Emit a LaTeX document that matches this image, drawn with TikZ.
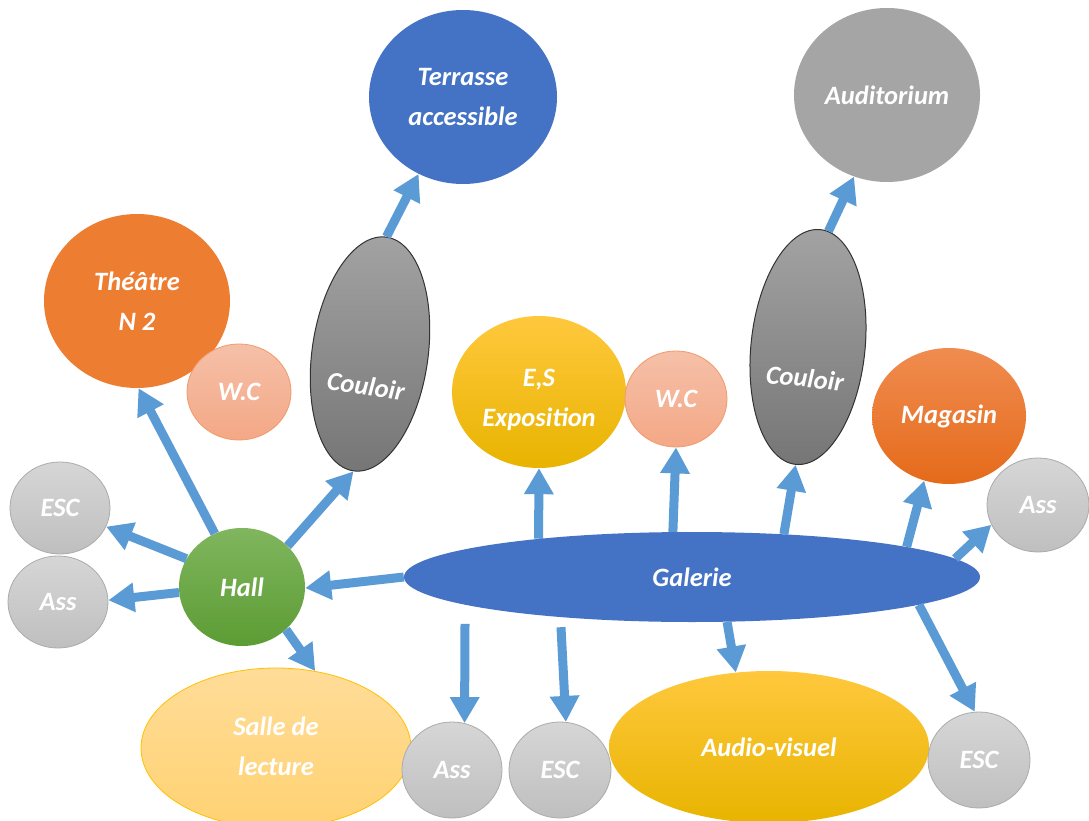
\documentclass[tikz,border=0pt]{standalone}
\usepackage{fontspec}
\setmainfont{Carlito}
\usetikzlibrary{shapes.geometric,arrows.meta}
\definecolor{arrowblue}{HTML}{5B9BD5}
\definecolor{blueN}{HTML}{4472C4}
\definecolor{grayA}{HTML}{A5A5A5}
\definecolor{orangeT}{HTML}{ED7D31}
\definecolor{wcTop}{HTML}{F5C0A8}
\definecolor{wcBot}{HTML}{F4A886}
\definecolor{wcB}{HTML}{F19A6A}
\definecolor{couTop}{HTML}{A3A3A3}
\definecolor{couBot}{HTML}{767676}
\definecolor{goldTop}{HTML}{FFC83D}
\definecolor{goldMid}{HTML}{FFC000}
\definecolor{goldBot}{HTML}{E8B400}
\definecolor{magTop}{HTML}{F08C50}
\definecolor{magMid}{HTML}{F47E2A}
\definecolor{magBot}{HTML}{E56A1A}
\definecolor{lgTop}{HTML}{D6D6D6}
\definecolor{lgBot}{HTML}{BFBFBF}
\definecolor{lgB}{HTML}{ABABAB}
\definecolor{hallTop}{HTML}{80B65E}
\definecolor{hallBot}{HTML}{5C9C34}
\definecolor{salTop}{HTML}{FFDC98}
\definecolor{salBot}{HTML}{FFD272}
\definecolor{salB}{HTML}{FFC000}
\begin{document}
\begin{tikzpicture}[x=1pt,y=-1pt,
  every node/.style={font=\fontsize{26.5}{40}\selectfont\bfseries\itshape, text=white, align=center},
  el/.style={ellipse, inner sep=0pt},
  sz/.style 2 args={minimum width=#1pt, minimum height=#2pt},
  wcs/.style={top color=wcTop, bottom color=wcBot, draw=wcB, line width=0.8pt},
  cous/.style={top color=couTop, bottom color=couBot, draw=black!80, line width=1pt},
  golds/.style={top color=goldTop, middle color=goldMid, bottom color=goldBot},
  mags/.style={top color=magTop, middle color=magMid, bottom color=magBot},
  lgs/.style={top color=lgTop, bottom color=lgBot, draw=lgB, line width=0.8pt},
  halls/.style={top color=hallTop, bottom color=hallBot},
  sals/.style={top color=salTop, bottom color=salBot, draw=salB, line width=0.8pt},
  arr/.style={draw=arrowblue, line width=9pt, -{Triangle[length=26pt,width=28pt]}},
  txt/.style={inner sep=0pt}
]
\clip (0,0) rectangle (1089,821);
\fill[white] (0,0) rectangle (1089,821);

% upper nodes
\node[el, sz={188}{174}, fill=blueN] (ter) at (463,97) {Terrasse\\accessible};
\node[el, sz={186}{174}, fill=grayA] (aud) at (887,95) {Auditorium};
\node[el, sz={186}{174}, fill=orangeT] (the) at (137,301) {Théâtre\\N 2};
\node[el, wcs, sz={104}{96}] (wc1) at (239,392) {W.C};
\node[el, cous, sz={116}{236}, rotate=-8] (cou1) at (370,354) {};
\node[txt, rotate=-8] (cou1t) at (366,386) {Couloir};
\node[el, golds, sz={174}{152}] (es) at (539,392) {};
\node[txt] (est) at (539,400) {E,S\\Exposition};
\node[el, wcs, sz={102}{96}] (wc2) at (676,399) {W.C};
\node[el, cous, sz={114}{236}, rotate=-6] (cou2) at (808,347) {};
\node[txt, rotate=-6] (cou2t) at (805,378) {Couloir};
\node[el, mags, sz={154}{136}] (mag) at (949,416) {Magasin};

% side nodes
\node[el, lgs, sz={102}{94}] (ass3) at (1038,505) {Ass};
\node[el, lgs, sz={100}{92}] (esc1) at (60,508) {ESC};
\node[el, lgs, sz={100}{92}] (ass1) at (58,602) {Ass};

% centre
\node[el, halls, sz={126}{118}] (hall) at (242,587) {Hall};
\node[el, fill=blueN, sz={576}{90}] (gal) at (692,577) {Galerie};

% lower nodes
\node[el, sals, sz={270}{160}] (sal) at (276,748) {};
\node[txt] (salt) at (276,746) {Salle de\\lecture};
\node[el, lgs, sz={100}{96}] (ass2) at (452,770) {Ass};
\node[el, golds, sz={320}{152}] (av) at (769,747) {Audio-visuel};
\node[el, lgs, sz={102}{96}] (esc2) at (560,770) {ESC};
\node[el, lgs, sz={102}{96}] (esc3) at (979,760) {ESC};

% arrows
\draw[arr] (gal.180) -- (hall.-1);
\draw[arr] (hall.185) -- (ass1.2);
\draw[arr] (hall.153) -- (esc1.-22);
\draw[arr] (hall.117) -- (the.-89);
\draw[arr] (hall.42) -- (cou1.-90);
\draw[arr] (cou1.90) -- (ter.-120);
\draw[arr] (hall.-44) -- (sal.63);
\draw[arr] (gal.166.5) -- (es.-90);
\draw[arr] (gal.113) -- (wc2.-90);
\draw[arr] (gal.25) -- (cou2.-90);
\draw[arr] (cou2.86) -- (aud.-112);
\draw[arr] (gal.8) -- (mag.-111);
\draw[arr] (gal.4) -- (ass3.-157);
\draw[arr] (gal.-7) -- (esc3.95);
\draw[arr] (gal.-52) -- (av.114);
\draw[arr, shorten <=19pt] (gal.187.5) -- (ass2.75);
\draw[arr, shorten <=10pt] (gal.197) -- (esc2.83);
\end{tikzpicture}
\end{document}
